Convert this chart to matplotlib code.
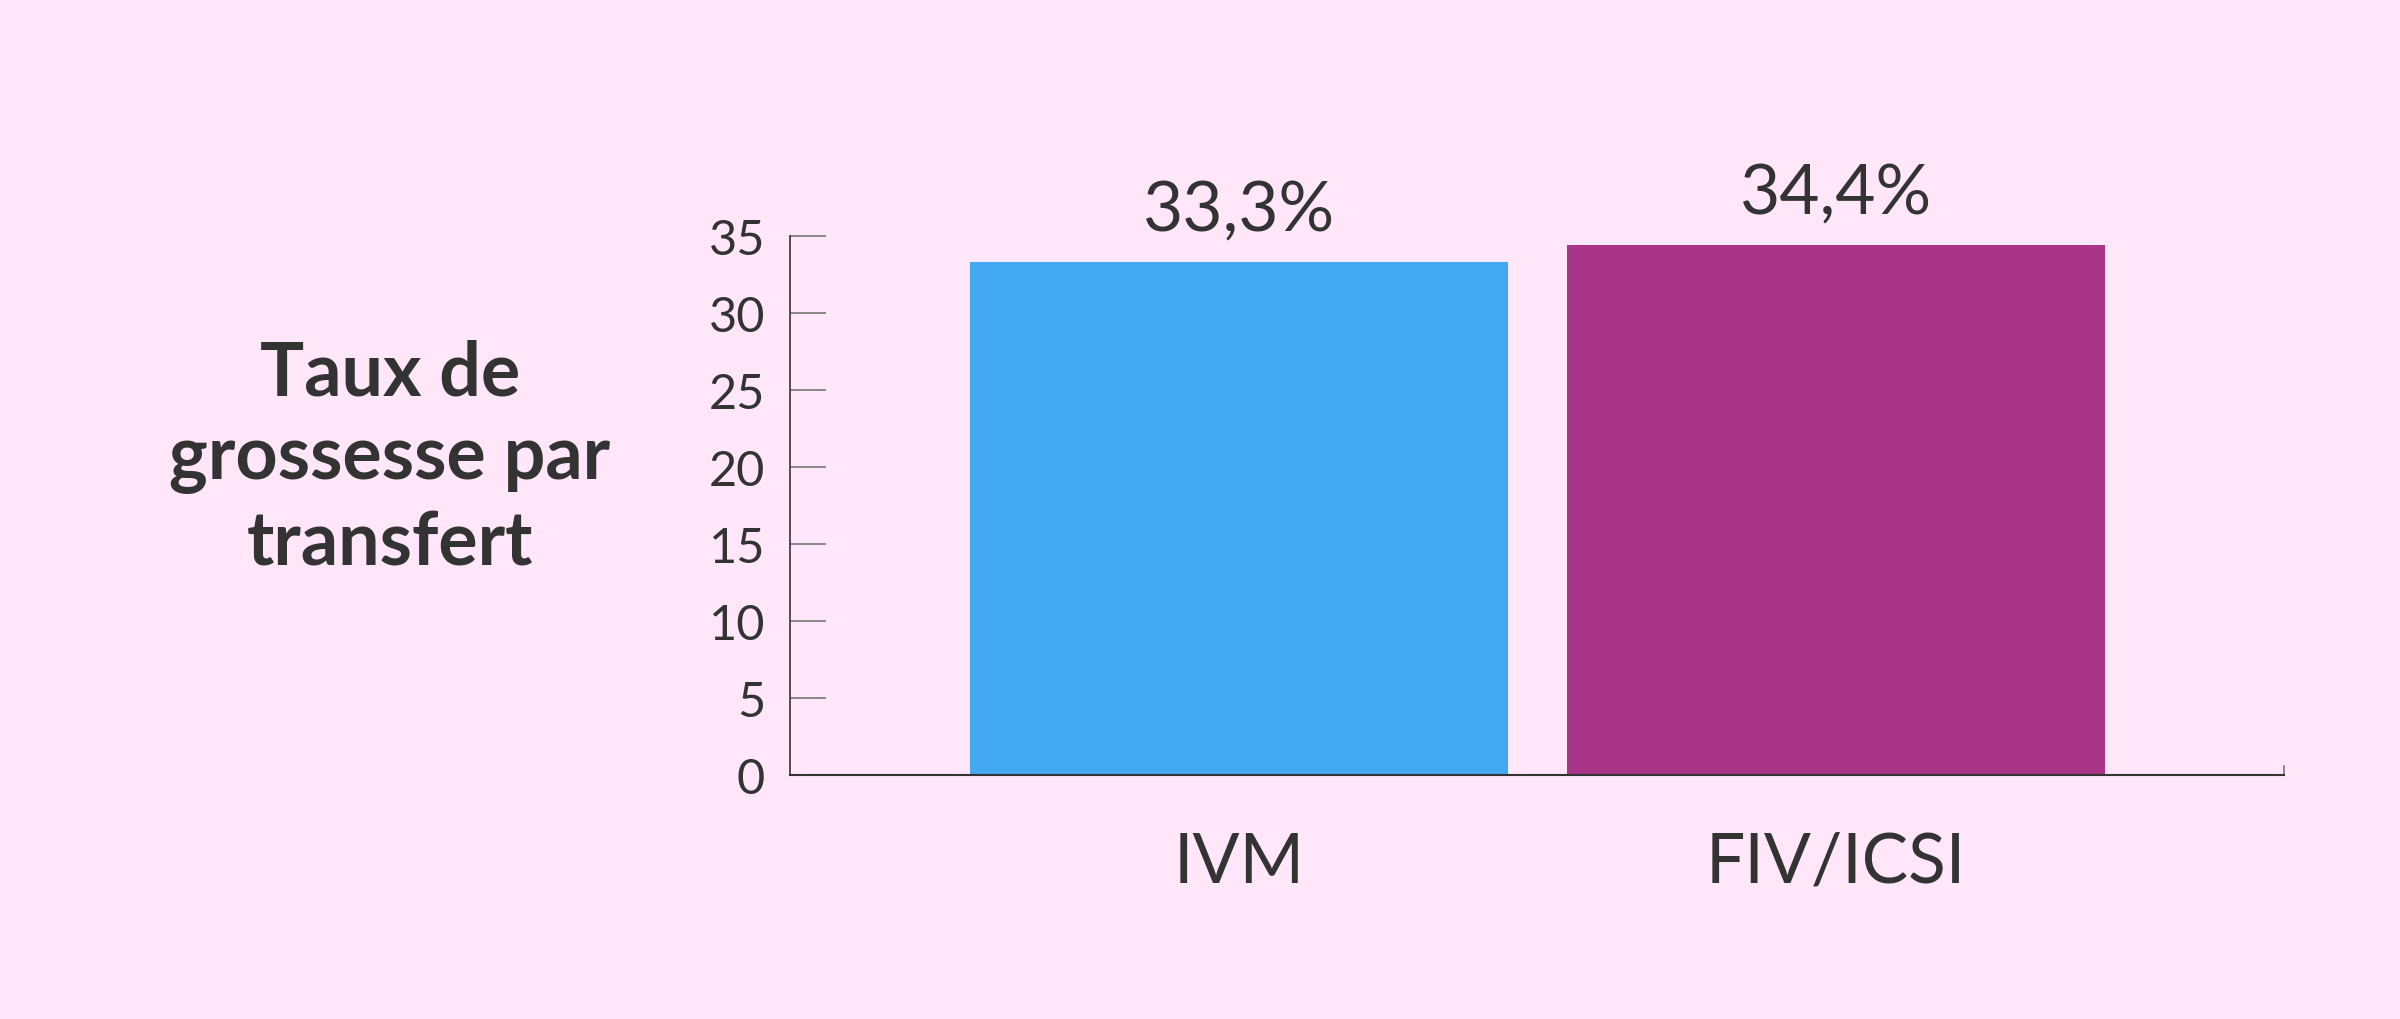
import matplotlib.pyplot as plt

categories = ["IVM", "FIV/ICSI"]
values = [33.3, 34.4]
value_labels = ["33,3%", "34,4%"]
colors = ["#42A8F2", "#A93589"]
yticks = [0, 5, 10, 15, 20, 25, 30, 35]

bg = "#FFE6F9"
txt = "#333333"

plt.rcParams['font.family'] = ['Lato', 'DejaVu Sans']

fig = plt.figure(figsize=(24, 10.2), dpi=100, facecolor=bg)
ax = fig.add_axes([0.3292, 0.2392, 0.6225, 0.5284], facecolor=bg)

x = list(range(len(categories)))
bars = ax.bar(x, values, width=0.902, color=colors)

# value labels above the bars
for b, lab in zip(bars, value_labels):
    ax.annotate(lab, (b.get_x() + b.get_width() / 2, b.get_height()),
                xytext=(0, 15), textcoords="offset points",
                ha="center", va="bottom", fontsize=50, color=txt)

ax.set_xlim(-0.753, 1.752)
ax.set_ylim(0, 35)
ax.set_yticks(yticks)
ax.set_xticks(x)
ax.set_xticklabels(categories)

ax.tick_params(axis="y", direction="in", length=26, width=1.2, color="#777777",
               labelsize=35, labelcolor=txt, pad=18)
ax.tick_params(axis="x", length=0, labelsize=50, labelcolor=txt, pad=40)

ax.spines["top"].set_visible(False)
ax.spines["left"].set_color(txt)
ax.spines["left"].set_linewidth(1.2)
ax.spines["bottom"].set_color(txt)
ax.spines["bottom"].set_linewidth(1.5)
ax.spines["right"].set_color("#777777")
ax.spines["right"].set_linewidth(1.2)
ax.spines["right"].set_bounds(0, 0.6)

fig.text(0.1625, 0.55, "Taux de\ngrossesse par\ntransfert", ha="center", va="center",
         fontsize=53, fontweight="bold", color=txt, linespacing=1.27)

fig.savefig("out.png", dpi=100, facecolor=bg)
